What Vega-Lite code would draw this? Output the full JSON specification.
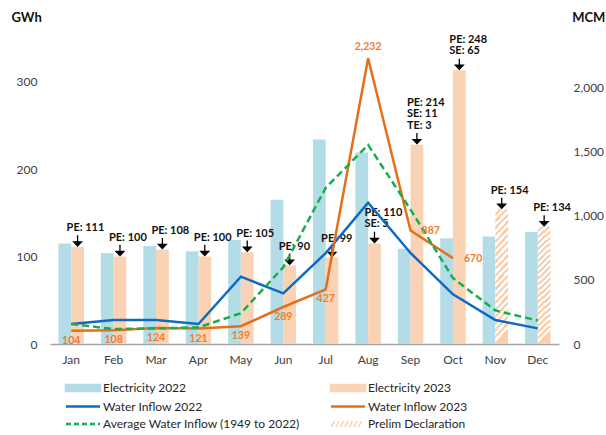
{
  "$schema": "https://vega.github.io/schema/vega-lite/v6.json",
  "width": 509,
  "height": 306,
  "autosize": "none",
  "padding": {"left": 50, "top": 38, "right": 47, "bottom": 91},
  "config": {
    "font": "Lato",
    "view": {"stroke": null},
    "axis": {"grid": false, "ticks": false, "labelFont": "Lato", "labelFontSize": 12, "labelColor": "#404040", "titleFont": "Lato", "titleFontSize": 13, "titleFontWeight": "bold", "titleColor": "#111111"}
  },
  "datasets": {
    "elec": [
      {"month": "Jan", "series": "Electricity 2022", "gwh": 115, "status": "Final"},
      {"month": "Feb", "series": "Electricity 2022", "gwh": 104, "status": "Final"},
      {"month": "Mar", "series": "Electricity 2022", "gwh": 112, "status": "Final"},
      {"month": "Apr", "series": "Electricity 2022", "gwh": 106, "status": "Final"},
      {"month": "May", "series": "Electricity 2022", "gwh": 119, "status": "Final"},
      {"month": "Jun", "series": "Electricity 2022", "gwh": 165, "status": "Final"},
      {"month": "Jul", "series": "Electricity 2022", "gwh": 234, "status": "Final"},
      {"month": "Aug", "series": "Electricity 2022", "gwh": 219, "status": "Final"},
      {"month": "Sep", "series": "Electricity 2022", "gwh": 109, "status": "Final"},
      {"month": "Oct", "series": "Electricity 2022", "gwh": 121, "status": "Final"},
      {"month": "Nov", "series": "Electricity 2022", "gwh": 123, "status": "Final"},
      {"month": "Dec", "series": "Electricity 2022", "gwh": 128, "status": "Final"},
      {"month": "Jan", "series": "Electricity 2023", "gwh": 111, "status": "Final", "note": "PE: 111"},
      {"month": "Feb", "series": "Electricity 2023", "gwh": 100, "status": "Final", "note": "PE: 100"},
      {"month": "Mar", "series": "Electricity 2023", "gwh": 108, "status": "Final", "note": "PE: 108"},
      {"month": "Apr", "series": "Electricity 2023", "gwh": 100, "status": "Final", "note": "PE: 100"},
      {"month": "May", "series": "Electricity 2023", "gwh": 105, "status": "Final", "note": "PE: 105"},
      {"month": "Jun", "series": "Electricity 2023", "gwh": 90, "status": "Final", "note": "PE: 90"},
      {"month": "Jul", "series": "Electricity 2023", "gwh": 99, "status": "Final", "note": "PE: 99"},
      {"month": "Aug", "series": "Electricity 2023", "gwh": 115, "status": "Final", "note": "PE: 110\nSE: 5"},
      {"month": "Sep", "series": "Electricity 2023", "gwh": 228, "status": "Final", "note": "PE: 214\nSE: 11\nTE: 3"},
      {"month": "Oct", "series": "Electricity 2023", "gwh": 313, "status": "Final", "note": "PE: 248\nSE: 65"},
      {"month": "Nov", "series": "Electricity 2023", "gwh": 154, "status": "Prelim", "note": "PE: 154"},
      {"month": "Dec", "series": "Electricity 2023", "gwh": 134, "status": "Prelim", "note": "PE: 134"}
    ],
    "water": [
      {"month": "Jan", "series": "Water Inflow 2022", "mcm": 156},
      {"month": "Feb", "series": "Water Inflow 2022", "mcm": 187},
      {"month": "Mar", "series": "Water Inflow 2022", "mcm": 187},
      {"month": "Apr", "series": "Water Inflow 2022", "mcm": 156},
      {"month": "May", "series": "Water Inflow 2022", "mcm": 526},
      {"month": "Jun", "series": "Water Inflow 2022", "mcm": 396},
      {"month": "Jul", "series": "Water Inflow 2022", "mcm": 710},
      {"month": "Aug", "series": "Water Inflow 2022", "mcm": 1104},
      {"month": "Sep", "series": "Water Inflow 2022", "mcm": 711},
      {"month": "Oct", "series": "Water Inflow 2022", "mcm": 388},
      {"month": "Nov", "series": "Water Inflow 2022", "mcm": 187},
      {"month": "Dec", "series": "Water Inflow 2022", "mcm": 122},
      {"month": "Jan", "series": "Water Inflow 2023", "mcm": 104},
      {"month": "Feb", "series": "Water Inflow 2023", "mcm": 108},
      {"month": "Mar", "series": "Water Inflow 2023", "mcm": 124},
      {"month": "Apr", "series": "Water Inflow 2023", "mcm": 121},
      {"month": "May", "series": "Water Inflow 2023", "mcm": 139},
      {"month": "Jun", "series": "Water Inflow 2023", "mcm": 289},
      {"month": "Jul", "series": "Water Inflow 2023", "mcm": 427},
      {"month": "Aug", "series": "Water Inflow 2023", "mcm": 2232},
      {"month": "Sep", "series": "Water Inflow 2023", "mcm": 887},
      {"month": "Oct", "series": "Water Inflow 2023", "mcm": 670},
      {"month": "Jan", "series": "Average Water Inflow (1949 to 2022)", "mcm": 156},
      {"month": "Feb", "series": "Average Water Inflow (1949 to 2022)", "mcm": 117},
      {"month": "Mar", "series": "Average Water Inflow (1949 to 2022)", "mcm": 122},
      {"month": "Apr", "series": "Average Water Inflow (1949 to 2022)", "mcm": 130},
      {"month": "May", "series": "Average Water Inflow (1949 to 2022)", "mcm": 240},
      {"month": "Jun", "series": "Average Water Inflow (1949 to 2022)", "mcm": 600},
      {"month": "Jul", "series": "Average Water Inflow (1949 to 2022)", "mcm": 1220},
      {"month": "Aug", "series": "Average Water Inflow (1949 to 2022)", "mcm": 1555},
      {"month": "Sep", "series": "Average Water Inflow (1949 to 2022)", "mcm": 1050},
      {"month": "Oct", "series": "Average Water Inflow (1949 to 2022)", "mcm": 515},
      {"month": "Nov", "series": "Average Water Inflow (1949 to 2022)", "mcm": 262},
      {"month": "Dec", "series": "Average Water Inflow (1949 to 2022)", "mcm": 183}
    ]
  },
  "layer": [
    {
      "data": {"name": "elec"},
      "encoding": {
        "x": {"field": "month", "type": "nominal", "sort": null,
          "scale": {"domain": ["Jan","Feb","Mar","Apr","May","Jun","Jul","Aug","Sep","Oct","Nov","Dec"], "paddingInner": 0.4, "paddingOuter": 0.2},
          "axis": {"title": null, "labelAngle": 0, "domainColor": "#A6A6A6", "domainWidth": 1.5, "labelPadding": 10, "labelBaseline": "top"}},
        "xOffset": {"field": "series", "type": "nominal", "scale": {"domain": ["Electricity 2022", "Electricity 2023"], "paddingInner": 0, "paddingOuter": 0}},
        "y": {"field": "gwh", "type": "quantitative", "scale": {"domain": [0, 350], "nice": false},
          "axis": {"values": [0, 100, 200, 300], "domain": false, "labelPadding": 13, "title": "GWh", "titleAngle": 0, "titleAlign": "left", "titleBaseline": "alphabetic", "titleX": -39, "titleY": -17}}
      },
      "layer": [
        {
          "transform": [{"filter": "datum.status === 'Final'"}],
          "mark": {"type": "bar"},
          "encoding": {
            "color": {"field": "series", "type": "nominal",
              "scale": {"domain": ["Electricity 2022", "Electricity 2023", "Water Inflow 2022", "Water Inflow 2023", "Average Water Inflow (1949 to 2022)", "Prelim Declaration"],
                        "range": ["#B4DCE7", "#FAD3B5", "#0D6CC2", "#E46F1B", "#13B04D", "#FAD3B5"]},
              "legend": {
                "orient": "none", "legendX": 27, "legendY": 344, "direction": "horizontal", "columns": 2, "columnPadding": 25, "rowPadding": 4.5,
                "title": null, "symbolSize": 36, "labelOffset": 14, "labelFont": "Lato", "labelFontSize": 12, "labelColor": "#262626", "labelLimit": 0,
                "encode": {"symbols": {"update": {
                  "shape": {"signal": "datum.value === 'Electricity 2022' || datum.value === 'Electricity 2023' ? 'M-5.67,-1H5.67V1H-5.67Z' : datum.value === 'Prelim Declaration' ? 'M-5.5,1L-4.5,-1M-4,1L-3,-1M-2.5,1L-1.5,-1M-1,1L0,-1M0.5,1L1.5,-1M2,1L3,-1M3.5,1L4.5,-1' : 'M-5.67,0H5.67'"},
                  "fill": {"signal": "datum.value === 'Electricity 2022' ? '#B4DCE7' : datum.value === 'Electricity 2023' ? '#FAD3B5' : 'transparent'"},
                  "stroke": {"signal": "datum.value === 'Water Inflow 2022' ? '#0D6CC2' : datum.value === 'Water Inflow 2023' ? '#E46F1B' : datum.value === 'Average Water Inflow (1949 to 2022)' ? '#13B04D' : datum.value === 'Prelim Declaration' ? '#F9CFAE' : 'transparent'"},
                  "strokeWidth": {"signal": "datum.value === 'Prelim Declaration' ? 1.6 : 2.5"},
                  "strokeDash": {"signal": "datum.value === 'Average Water Inflow (1949 to 2022)' ? [5, 3] : [1, 0]"},
                  "size": {"value": 36},
                  "opacity": {"value": 1}
                }}}
              }}
          }
        },
        {
          "transform": [{"filter": "datum.status === 'Prelim'"}],
          "mark": {"type": "bar", "fill": {"gradient": "linear", "x1": 0, "y1": 0, "x2": 0.1, "y2": 1, "stops": [
            {"offset": 0, "color": "#FFFFFF"}, {"offset": 0.025, "color": "#FFFFFF"}, {"offset": 0.025, "color": "#F9CFAE"}, {"offset": 0.05, "color": "#F9CFAE"},
            {"offset": 0.05, "color": "#FFFFFF"}, {"offset": 0.075, "color": "#FFFFFF"}, {"offset": 0.075, "color": "#F9CFAE"}, {"offset": 0.1, "color": "#F9CFAE"},
            {"offset": 0.1, "color": "#FFFFFF"}, {"offset": 0.125, "color": "#FFFFFF"}, {"offset": 0.125, "color": "#F9CFAE"}, {"offset": 0.15, "color": "#F9CFAE"},
            {"offset": 0.15, "color": "#FFFFFF"}, {"offset": 0.175, "color": "#FFFFFF"}, {"offset": 0.175, "color": "#F9CFAE"}, {"offset": 0.2, "color": "#F9CFAE"},
            {"offset": 0.2, "color": "#FFFFFF"}, {"offset": 0.225, "color": "#FFFFFF"}, {"offset": 0.225, "color": "#F9CFAE"}, {"offset": 0.25, "color": "#F9CFAE"},
            {"offset": 0.25, "color": "#FFFFFF"}, {"offset": 0.275, "color": "#FFFFFF"}, {"offset": 0.275, "color": "#F9CFAE"}, {"offset": 0.3, "color": "#F9CFAE"},
            {"offset": 0.3, "color": "#FFFFFF"}, {"offset": 0.325, "color": "#FFFFFF"}, {"offset": 0.325, "color": "#F9CFAE"}, {"offset": 0.35, "color": "#F9CFAE"},
            {"offset": 0.35, "color": "#FFFFFF"}, {"offset": 0.375, "color": "#FFFFFF"}, {"offset": 0.375, "color": "#F9CFAE"}, {"offset": 0.4, "color": "#F9CFAE"},
            {"offset": 0.4, "color": "#FFFFFF"}, {"offset": 0.425, "color": "#FFFFFF"}, {"offset": 0.425, "color": "#F9CFAE"}, {"offset": 0.45, "color": "#F9CFAE"},
            {"offset": 0.45, "color": "#FFFFFF"}, {"offset": 0.475, "color": "#FFFFFF"}, {"offset": 0.475, "color": "#F9CFAE"}, {"offset": 0.5, "color": "#F9CFAE"},
            {"offset": 0.5, "color": "#FFFFFF"}, {"offset": 0.525, "color": "#FFFFFF"}, {"offset": 0.525, "color": "#F9CFAE"}, {"offset": 0.55, "color": "#F9CFAE"},
            {"offset": 0.55, "color": "#FFFFFF"}, {"offset": 0.575, "color": "#FFFFFF"}, {"offset": 0.575, "color": "#F9CFAE"}, {"offset": 0.6, "color": "#F9CFAE"},
            {"offset": 0.6, "color": "#FFFFFF"}, {"offset": 0.625, "color": "#FFFFFF"}, {"offset": 0.625, "color": "#F9CFAE"}, {"offset": 0.65, "color": "#F9CFAE"},
            {"offset": 0.65, "color": "#FFFFFF"}, {"offset": 0.675, "color": "#FFFFFF"}, {"offset": 0.675, "color": "#F9CFAE"}, {"offset": 0.7, "color": "#F9CFAE"},
            {"offset": 0.7, "color": "#FFFFFF"}, {"offset": 0.725, "color": "#FFFFFF"}, {"offset": 0.725, "color": "#F9CFAE"}, {"offset": 0.75, "color": "#F9CFAE"},
            {"offset": 0.75, "color": "#FFFFFF"}, {"offset": 0.775, "color": "#FFFFFF"}, {"offset": 0.775, "color": "#F9CFAE"}, {"offset": 0.8, "color": "#F9CFAE"},
            {"offset": 0.8, "color": "#FFFFFF"}, {"offset": 0.825, "color": "#FFFFFF"}, {"offset": 0.825, "color": "#F9CFAE"}, {"offset": 0.85, "color": "#F9CFAE"},
            {"offset": 0.85, "color": "#FFFFFF"}, {"offset": 0.875, "color": "#FFFFFF"}, {"offset": 0.875, "color": "#F9CFAE"}, {"offset": 0.9, "color": "#F9CFAE"},
            {"offset": 0.9, "color": "#FFFFFF"}, {"offset": 0.925, "color": "#FFFFFF"}, {"offset": 0.925, "color": "#F9CFAE"}, {"offset": 0.95, "color": "#F9CFAE"},
            {"offset": 0.95, "color": "#FFFFFF"}, {"offset": 0.975, "color": "#FFFFFF"}, {"offset": 0.975, "color": "#F9CFAE"}, {"offset": 1, "color": "#F9CFAE"}
          ]}}
        },
        {
          "transform": [{"filter": "datum.note != null"}],
          "mark": {"type": "point", "shape": "M0,-3.9V-1.2M-1.3,-1.7L0,-0.33L1.3,-1.7Z", "size": 36, "filled": true, "color": "#000000", "stroke": "#000000", "strokeWidth": 1.3, "opacity": 1}
        },
        {
          "transform": [{"filter": "datum.note != null && datum.month !== 'Aug' && datum.month !== 'Sep' && datum.month !== 'Oct'"}],
          "mark": {"type": "text", "font": "Lato", "fontWeight": "bold", "fontSize": 11, "color": "#111111", "align": "left", "baseline": "bottom", "dx": -11, "dy": -13.5, "lineBreak": "\n", "lineHeight": 11.5},
          "encoding": {"text": {"field": "note"}}
        },
        {
          "transform": [{"filter": "datum.note != null && (datum.month === 'Aug' || datum.month === 'Oct')"}],
          "mark": {"type": "text", "font": "Lato", "fontWeight": "bold", "fontSize": 11, "color": "#111111", "align": "left", "baseline": "bottom", "dx": -10, "dy": -25.5, "lineBreak": "\n", "lineHeight": 11.5},
          "encoding": {"text": {"field": "note"}}
        },
        {
          "transform": [{"filter": "datum.note != null && datum.month === 'Sep'"}],
          "mark": {"type": "text", "font": "Lato", "fontWeight": "bold", "fontSize": 11, "color": "#111111", "align": "left", "baseline": "bottom", "dx": -10, "dy": -37, "lineBreak": "\n", "lineHeight": 11.5},
          "encoding": {"text": {"field": "note"}}
        }
      ]
    },
    {
      "data": {"name": "water"},
      "encoding": {
        "x": {"field": "month", "type": "nominal", "sort": null,
          "scale": {"domain": ["Jan","Feb","Mar","Apr","May","Jun","Jul","Aug","Sep","Oct","Nov","Dec"], "paddingInner": 0.4, "paddingOuter": 0.2},
          "axis": {"title": null, "labelAngle": 0, "domainColor": "#A6A6A6", "domainWidth": 1.5, "labelPadding": 10, "labelBaseline": "top"}},
        "y": {"field": "mcm", "type": "quantitative", "scale": {"domain": [0, 2390], "nice": false},
          "axis": {"orient": "right", "values": [0, 500, 1000, 1500, 2000], "format": ",d", "domain": false, "labelPadding": 14, "title": "MCM", "titleAngle": 0, "titleAlign": "left", "titleBaseline": "alphabetic", "titleX": 12.7, "titleY": -17}}
      },
      "layer": [
        {
          "transform": [{"filter": "datum.series !== 'Average Water Inflow (1949 to 2022)'"}],
          "mark": {"type": "line", "strokeWidth": 2.5},
          "encoding": {
            "color": {"field": "series", "type": "nominal",
              "scale": {"domain": ["Electricity 2022", "Electricity 2023", "Water Inflow 2022", "Water Inflow 2023", "Average Water Inflow (1949 to 2022)", "Prelim Declaration"],
                        "range": ["#B4DCE7", "#FAD3B5", "#0D6CC2", "#E46F1B", "#13B04D", "#FAD3B5"]}}
          }
        },
        {
          "transform": [{"filter": "datum.series === 'Average Water Inflow (1949 to 2022)'"}],
          "mark": {"type": "line", "strokeWidth": 2.5, "strokeDash": [7, 4]},
          "encoding": {
            "color": {"field": "series", "type": "nominal",
              "scale": {"domain": ["Electricity 2022", "Electricity 2023", "Water Inflow 2022", "Water Inflow 2023", "Average Water Inflow (1949 to 2022)", "Prelim Declaration"],
                        "range": ["#B4DCE7", "#FAD3B5", "#0D6CC2", "#E46F1B", "#13B04D", "#FAD3B5"]}}
          }
        },
        {
          "transform": [{"filter": "datum.series === 'Water Inflow 2023' && indexof(['Jan','Feb','Mar','Apr','May','Jun','Jul'], datum.month) >= 0"}],
          "mark": {"type": "text", "font": "Lato", "fontWeight": "bold", "fontSize": 10.5, "color": "#EE7D31", "baseline": "middle", "dy": 10},
          "encoding": {"text": {"field": "mcm", "format": ","}}
        },
        {
          "transform": [{"filter": "datum.series === 'Water Inflow 2023' && datum.month === 'Aug'"}],
          "mark": {"type": "text", "font": "Lato", "fontWeight": "bold", "fontSize": 10.5, "color": "#EE7D31", "baseline": "middle", "dy": -11},
          "encoding": {"text": {"field": "mcm", "format": ","}}
        },
        {
          "transform": [{"filter": "datum.series === 'Water Inflow 2023' && (datum.month === 'Sep' || datum.month === 'Oct')"}],
          "mark": {"type": "text", "font": "Lato", "fontWeight": "bold", "fontSize": 10.5, "color": "#EE7D31", "align": "left", "baseline": "middle", "dx": 11, "dy": 1},
          "encoding": {"text": {"field": "mcm", "format": ","}}
        }
      ]
    }
  ],
  "resolve": {"scale": {"y": "independent"}, "axis": {"y": "independent"}}
}
